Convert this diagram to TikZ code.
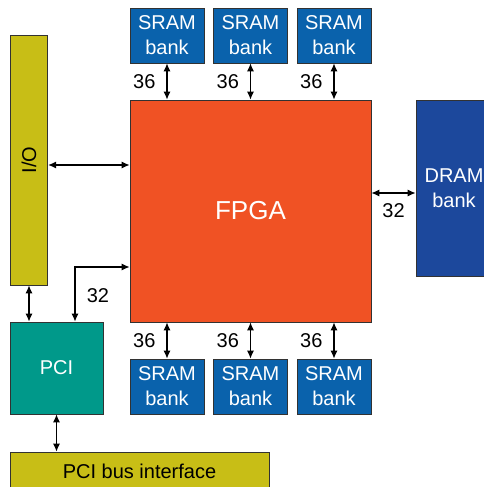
\documentclass[tikz,border=0pt]{standalone}
\usepackage{fontspec}
\setmainfont{Liberation Sans}
\usetikzlibrary{arrows.meta}
\definecolor{sramblue}{RGB}{10,98,172}
\definecolor{fpgared}{RGB}{240,82,36}
\definecolor{iolive}{RGB}{200,190,22}
\definecolor{pciteal}{RGB}{0,153,138}
\definecolor{dramblue}{RGB}{28,72,156}
\definecolor{edge}{RGB}{50,50,50}
\tikzset{
  blk/.style={draw=edge, line width=0.8pt, inner sep=0pt, align=center,
    font=\fontsize{20}{25}\selectfont},
  srambox/.style={blk, fill=sramblue, text=white, minimum width=74pt, minimum height=55pt},
  biarrow/.style={line width=1.1pt, {Latex[length=8pt,width=7pt]}-{Latex[length=8pt,width=7pt]}},
  wlabel/.style={font=\fontsize{20}{24}\selectfont, inner sep=0pt}
}
\begin{document}
\begin{tikzpicture}[x=1pt,y=-1pt]
  \useasboundingbox (0,0) rectangle (484,487);
  \clip (0,0) rectangle (484,487);
  % main blocks
  \node[blk, fill=fpgared, text=white, minimum width=241pt, minimum height=222pt,
        font=\fontsize{26}{30}\selectfont] (fpga) at (250.5,211) {FPGA};
  \node[blk, fill=iolive, minimum width=37.5pt, minimum height=250pt] (io) at (29,160) {};
  \node[rotate=90, font=\fontsize{20}{24}\selectfont] (iotext) at (io.center) {I/O};
  \node[blk, fill=dramblue, text=white, minimum width=76pt, minimum height=176pt] (dram) at (454,188) {DRAM\\bank};
  \node[blk, fill=pciteal, text=white, minimum width=93pt, minimum height=92pt] (pci) at (56.5,368) {PCI};
  \node[blk, fill=iolive, minimum width=259pt, minimum height=38pt] (bus) at (139.5,471) {PCI bus interface};
  % SRAM banks above and below
  \node[srambox] (st1) at (167,35.5) {SRAM\\bank};
  \node[srambox] (st2) at (250.5,35.5) {SRAM\\bank};
  \node[srambox] (st3) at (334,35.5) {SRAM\\bank};
  \node[srambox] (sb1) at (167,386.5) {SRAM\\bank};
  \node[srambox] (sb2) at (250.5,386.5) {SRAM\\bank};
  \node[srambox] (sb3) at (334,386.5) {SRAM\\bank};
  % SRAM links
  \foreach \s in {st1,st2,st3}{
    \draw[biarrow] (\s.south) -- (\s.south |- fpga.north)
      node[midway, left=11pt, wlabel] {36};
  }
  \foreach \s in {sb1,sb2,sb3}{
    \draw[biarrow] (\s.north |- fpga.south) -- (\s.north)
      node[midway, left=11pt, wlabel] {36};
  }
  % I/O link
  \draw[biarrow] ([yshift=-5pt]io.east) -- ([yshift=-5pt]io.east -| fpga.west);
  % DRAM link
  \draw[biarrow] ([yshift=-5pt]fpga.east |- dram.west) -- ([yshift=-5pt]dram.west)
    node[midway, below=10pt, wlabel] {32};
  % I/O to PCI
  \draw[biarrow] (io.south) -- (io.south |- pci.north);
  % PCI to FPGA
  \draw[biarrow] ([xshift=18.5pt]pci.north) |- ([yshift=-56pt]fpga.west);
  \node[wlabel] (l32) at (98,296) {32};
  % PCI to bus interface
  \draw[biarrow] (pci.south) -- (pci.south |- bus.north);
\end{tikzpicture}
\end{document}
